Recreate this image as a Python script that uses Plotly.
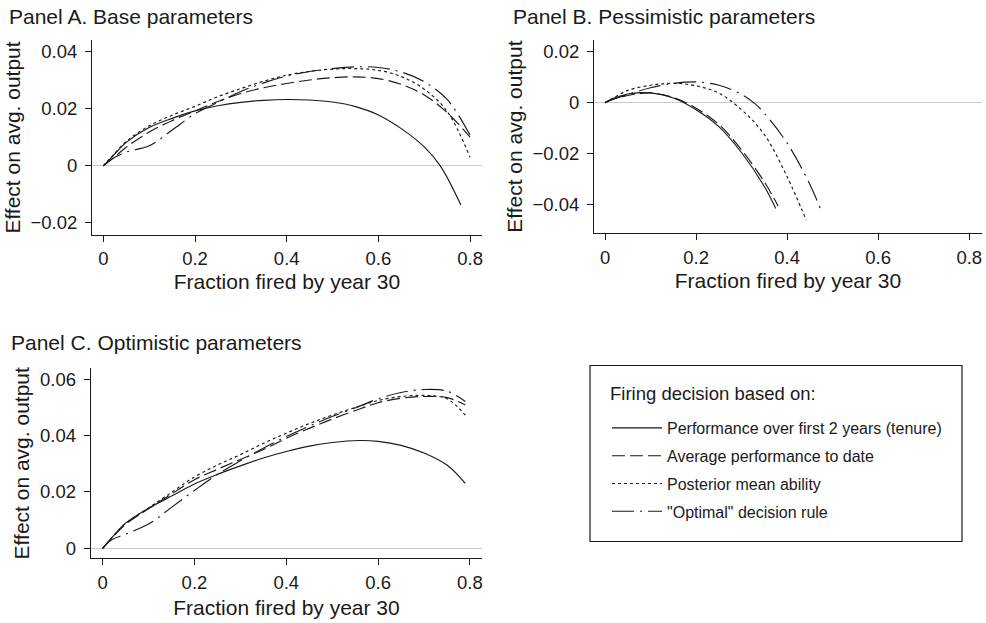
import plotly.graph_objects as go

# ---------------------------------------------------------------------------
# Data: effect on average output vs. fraction fired by year 30
# ---------------------------------------------------------------------------
series_names = [
    "Performance over first 2 years (tenure)",
    "Average performance to date",
    "Posterior mean ability",
    "\"Optimal\" decision rule",
]

# Panel A. Base parameters
a_x_tenure = [0, 0.02, 0.05, 0.1, 0.15, 0.2, 0.25, 0.3, 0.35, 0.4, 0.45, 0.5, 0.55, 0.6, 0.65, 0.7, 0.735, 0.78]
a_y_tenure = [0, 0.0033, 0.0082, 0.0134, 0.0166, 0.0192, 0.0210, 0.0222, 0.0229, 0.0232, 0.0230, 0.0223, 0.0207,
              0.0178, 0.0130, 0.0066, 0.0, -0.0137]
a_x_other = [0, 0.02, 0.05, 0.1, 0.15, 0.2, 0.25, 0.3, 0.35, 0.4, 0.45, 0.5, 0.55, 0.6, 0.65, 0.7, 0.75, 0.8]
a_y_average = [0, 0.0025, 0.0065, 0.0118, 0.0158, 0.0192, 0.0225, 0.0253, 0.0273, 0.0288, 0.0300, 0.0308, 0.0311,
               0.0305, 0.0285, 0.0248, 0.0186, 0.0100]
a_y_posterior = [0, 0.0035, 0.0085, 0.0140, 0.0177, 0.0208, 0.0242, 0.0270, 0.0296, 0.0317, 0.0330, 0.0338, 0.0340,
                 0.0334, 0.0312, 0.0268, 0.0190, 0.0030]
a_y_optimal = [0, 0.0025, 0.0048, 0.0070, 0.0125, 0.0182, 0.0222, 0.0260, 0.0290, 0.0314, 0.0330, 0.0340, 0.0346,
               0.0344, 0.0328, 0.0294, 0.0232, 0.0107]

# Panel B. Pessimistic parameters
b_x_tenure = [0, 0.02, 0.05, 0.08, 0.1, 0.15, 0.2, 0.25, 0.3, 0.35, 0.375]
b_y_tenure = [0, 0.0018, 0.0034, 0.0039, 0.0038, 0.0018, -0.0028, -0.0094, -0.0196, -0.0328, -0.0414]
b_x_average = [0, 0.02, 0.05, 0.08, 0.1, 0.15, 0.2, 0.25, 0.3, 0.35, 0.38]
b_y_average = [0, 0.0015, 0.0028, 0.0036, 0.0038, 0.0020, -0.0022, -0.0085, -0.0185, -0.0310, -0.0404]
b_x_posterior = [0, 0.02, 0.05, 0.1, 0.15, 0.2, 0.25, 0.3, 0.35, 0.4, 0.442]
b_y_posterior = [0, 0.0020, 0.0048, 0.0068, 0.0076, 0.0066, 0.0037, -0.0028, -0.0125, -0.0290, -0.0460]
b_x_optimal = [0, 0.02, 0.05, 0.1, 0.15, 0.2, 0.25, 0.3, 0.33, 0.35, 0.4, 0.45, 0.476]
b_y_optimal = [0, 0.0014, 0.0032, 0.0058, 0.0075, 0.0081, 0.0068, 0.0032, -0.0005, -0.0042, -0.0158, -0.0320,
               -0.0428]

# Panel C. Optimistic parameters
c_x = [0, 0.02, 0.05, 0.1, 0.15, 0.2, 0.25, 0.3, 0.35, 0.4, 0.45, 0.5, 0.56, 0.6, 0.65, 0.7, 0.75, 0.79]
c_y_tenure = [0, 0.0038, 0.0089, 0.0142, 0.0185, 0.0228, 0.0262, 0.0292, 0.0320, 0.0343, 0.0362, 0.0375, 0.0382,
              0.0379, 0.0365, 0.0338, 0.0295, 0.0230]
c_y_average = [0, 0.0036, 0.0085, 0.0140, 0.0192, 0.0243, 0.0280, 0.0315, 0.0350, 0.0390, 0.0425, 0.0458, 0.0494,
               0.0516, 0.0532, 0.0538, 0.0534, 0.0508]
c_y_posterior = [0, 0.0037, 0.0088, 0.0143, 0.0198, 0.0253, 0.0295, 0.0332, 0.0372, 0.0408, 0.0442, 0.0472, 0.0504,
                 0.0524, 0.0538, 0.0542, 0.0530, 0.0472]
c_y_optimal = [0, 0.0030, 0.0050, 0.0086, 0.0145, 0.0205, 0.0262, 0.0310, 0.0355, 0.0396, 0.0433, 0.0467, 0.0504,
               0.0530, 0.0552, 0.0563, 0.0557, 0.0520]

# Tick labels
x_tickvals = [0, 0.2, 0.4, 0.6, 0.8]
x_ticktext = ["0", "0.2", "0.4", "0.6", "0.8"]
a_y_tickvals = [-0.02, 0, 0.02, 0.04]
a_y_ticktext = ["\u22120.02", "0", "0.02", "0.04"]
b_y_tickvals = [-0.04, -0.02, 0, 0.02]
b_y_ticktext = ["\u22120.04", "\u22120.02", "0", "0.02"]
c_y_tickvals = [0, 0.02, 0.04, 0.06]
c_y_ticktext = ["0", "0.02", "0.04", "0.06"]

panel_titles = ["Panel A. Base parameters", "Panel B. Pessimistic parameters", "Panel C. Optimistic parameters"]
x_title = "Fraction fired by year 30"
y_title = "Effect on avg. output"
legend_title = "Firing decision based on:"

# ---------------------------------------------------------------------------
# Styling
# ---------------------------------------------------------------------------
W, H = 986, 623
FONT = "Liberation Sans, Arial, Helvetica, sans-serif"
INK = "#1a1a1a"
dashes = ["solid", "13px,5px", "3px,3px", "22px,6px,2px,6px"]


def px_x(p):
    return p / W


def px_y(p):
    return 1 - p / H


fig = go.Figure()

panels = [
    ("x", "y", [(a_x_tenure, a_y_tenure), (a_x_other, a_y_average), (a_x_other, a_y_posterior),
                (a_x_other, a_y_optimal)]),
    ("x2", "y2", [(b_x_tenure, b_y_tenure), (b_x_average, b_y_average), (b_x_posterior, b_y_posterior),
                  (b_x_optimal, b_y_optimal)]),
    ("x3", "y3", [(c_x, c_y_tenure), (c_x, c_y_average), (c_x, c_y_posterior), (c_x, c_y_optimal)]),
]

for pi, (xa, ya, series) in enumerate(panels):
    for si, (xs, ys) in enumerate(series):
        fig.add_trace(go.Scatter(
            x=xs, y=ys, mode="lines", xaxis=xa, yaxis=ya,
            name=series_names[si], legendgroup=f"g{si}", showlegend=(pi == 0),
            line=dict(color=INK, width=1.15, dash=dashes[si], shape="spline", smoothing=1.0),
            hoverinfo="skip",
        ))

axis_common = dict(
    showline=True, linecolor=INK, linewidth=1, mirror=False,
    ticks="outside", ticklen=6, tickcolor=INK, tickwidth=1,
    showgrid=False, tickfont=dict(family=FONT, size=18.5, color=INK),
    title_font=dict(family=FONT, size=21, color=INK),
)
x_common = dict(axis_common, tickvals=x_tickvals, ticktext=x_ticktext, zeroline=False,
                ticklabelstandoff=1)
y_common = dict(axis_common, zeroline=True, zerolinecolor="#c8c8c8", zerolinewidth=1,
                ticklabelstandoff=4)

# Axis domains (paper fractions)
dom = {
    "A": dict(x=[px_x(92), px_x(482)], y=[px_y(235), px_y(40)]),
    "B": dict(x=[px_x(594), px_x(982)], y=[px_y(233.3), px_y(40)]),
    "C": dict(x=[px_x(90.7), px_x(482.3)], y=[px_y(558.3), px_y(368.3)]),
}

fig.update_layout(
    xaxis=dict(x_common, domain=dom["A"]["x"], range=[-0.0247, 0.826], anchor="y",
               title=dict(text=x_title, standoff=6)),
    yaxis=dict(y_common, domain=dom["A"]["y"], range=[-0.0242, 0.044], anchor="x",
               tickvals=a_y_tickvals, ticktext=a_y_ticktext,
               title=dict(text=y_title, standoff=4)),
    xaxis2=dict(x_common, domain=dom["B"]["x"], range=[-0.0242, 0.828], anchor="y2",
                title=dict(text=x_title, standoff=6)),
    yaxis2=dict(y_common, domain=dom["B"]["y"], range=[-0.0511, 0.0245], anchor="x2",
                tickvals=b_y_tickvals, ticktext=b_y_ticktext,
                title=dict(text=y_title, standoff=4)),
    xaxis3=dict(x_common, domain=dom["C"]["x"], range=[-0.026, 0.827], anchor="y3",
                title=dict(text=x_title, standoff=8)),
    yaxis3=dict(y_common, domain=dom["C"]["y"], range=[-0.00355, 0.0638], anchor="x3",
                tickvals=c_y_tickvals, ticktext=c_y_ticktext,
                title=dict(text=y_title, standoff=4)),
)

# Panel titles
title_pos = [(7, 16), (511, 16), (9, 342)]
for (tx, ty), txt in zip(title_pos, panel_titles):
    fig.add_annotation(
        text=txt, xref="paper", yref="paper", x=px_x(tx), y=px_y(ty),
        xanchor="left", yanchor="middle", showarrow=False,
        font=dict(family=FONT, size=21, color=INK),
    )

# Legend frame and heading
fig.add_shape(
    type="rect", xref="paper", yref="paper",
    x0=px_x(590), x1=px_x(962), y0=px_y(541.5), y1=px_y(365.5),
    line=dict(color=INK, width=1.2), fillcolor="rgba(0,0,0,0)", layer="below",
)
fig.add_annotation(
    text=legend_title, xref="paper", yref="paper", x=px_x(608), y=px_y(393),
    xanchor="left", yanchor="middle", showarrow=False,
    font=dict(family=FONT, size=18.5, color=INK),
)

fig.update_layout(
    width=W, height=H, autosize=False,
    margin=dict(l=0, r=0, t=0, b=0),
    paper_bgcolor="white", plot_bgcolor="white",
    font=dict(family=FONT, color=INK),
    showlegend=True,
    legend=dict(
        x=px_x(607), y=px_y(411), xanchor="left", yanchor="top",
        bgcolor="rgba(0,0,0,0)", borderwidth=0,
        font=dict(family=FONT, size=16, color=INK),
        tracegroupgap=4, itemwidth=50, itemclick=False, itemdoubleclick=False,
    ),
)

fig.write_html("out.html")
